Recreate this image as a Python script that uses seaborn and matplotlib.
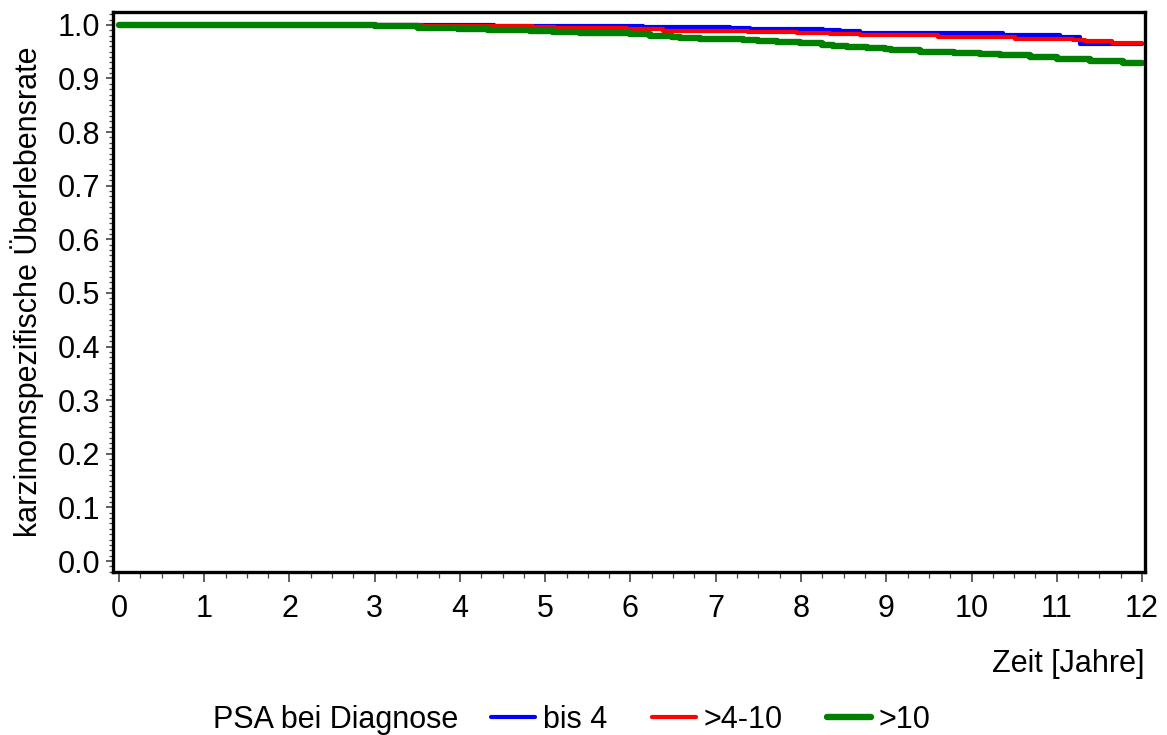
import numpy as np
import pandas as pd
import matplotlib
matplotlib.use("Agg")
import matplotlib.pyplot as plt
import seaborn as sns
from matplotlib.ticker import MultipleLocator, FormatStrFormatter

# ---- data ----
groups = ["bis 4", ">4-10", ">10"]
colors = ["#0000FF", "#FF0000", "#008000"]

t_bis4 = [0, 2.5, 4.4, 6.03, 6.15, 7.17, 7.40, 8.26, 8.46, 8.69, 10.37, 11.04, 11.27, 12.0]
s_bis4 = [1.0, 0.999, 0.998, 0.997, 0.9955, 0.994, 0.9925, 0.9905, 0.989, 0.985, 0.981, 0.977, 0.965, 0.965]

t_4_10 = [0, 2.6, 3.55, 4.0, 4.86, 5.11, 5.96, 6.38, 7.38, 7.95, 8.34, 8.69, 9.61, 10.51,
          10.66, 11.19, 11.33, 11.65, 12.0]
s_4_10 = [1.0, 0.999, 0.998, 0.997, 0.996, 0.994, 0.992, 0.989, 0.987, 0.9845, 0.9826, 0.9815,
          0.978, 0.9745, 0.973, 0.972, 0.970, 0.967, 0.967]

t_gt10 = [0, 2.38, 3.0, 3.51, 3.98, 4.33, 4.82, 5.09, 5.41, 5.99, 6.23, 6.49, 6.58, 6.82, 7.32,
          7.5, 7.72, 7.99, 8.25, 8.38, 8.54, 8.77, 8.99, 9.05, 9.4, 9.79, 10.1, 10.33, 10.69, 11.0,
          11.39, 11.59, 11.78, 12.0]
s_gt10 = [1.0, 0.9994, 0.997, 0.995, 0.9925, 0.9907, 0.989, 0.987, 0.985, 0.9826, 0.980, 0.9776,
          0.976, 0.974, 0.9714, 0.969, 0.9677, 0.966, 0.9633, 0.9614, 0.9596, 0.9577, 0.9547, 0.953,
          0.950, 0.948, 0.946, 0.944, 0.940, 0.936, 0.933, 0.932, 0.929, 0.929]

x_ticks = list(range(0, 13))
y_ticks = [round(0.1 * i, 1) for i in range(11)]

# ---- figure ----
sns.set_style("white")
plt.rcParams["font.family"] = ["Liberation Sans", "DejaVu Sans"]
plt.rcParams["text.color"] = "black"
plt.rcParams["axes.labelcolor"] = "black"
plt.rcParams["xtick.color"] = "black"
plt.rcParams["ytick.color"] = "black"
FS = 22

fig = plt.figure(figsize=(11.67, 7.35), dpi=100)
ax = fig.add_axes([113 / 1167, 1 - 572 / 735, (1145 - 113) / 1167, (572 - 12) / 735])

series = [(t_bis4, s_bis4), (t_4_10, s_4_10), (t_gt10, s_gt10)]
widths = [3.0, 3.0, 4.6]
for (t, s), g, c, lw in zip(series, groups, colors, widths):
    df = pd.DataFrame({"Zeit": t, "Rate": s})
    sns.lineplot(data=df, x="Zeit", y="Rate", ax=ax, color=c, linewidth=lw,
                 drawstyle="steps-post", label=g, sort=False, legend=False,
                 solid_capstyle="round")

ax.set_xlim(-0.07, 12.035)
ax.set_ylim(-0.0205, 1.024)
ax.set_xticks(x_ticks)
ax.set_yticks(y_ticks)
ax.xaxis.set_minor_locator(MultipleLocator(0.25))
ax.yaxis.set_minor_locator(MultipleLocator(0.01))
ax.yaxis.set_major_formatter(FormatStrFormatter("%.1f"))

for sp in ax.spines.values():
    sp.set_linewidth(2.4)
    sp.set_color("black")

ax.tick_params(axis="both", which="both", bottom=True, left=True, top=False, right=False)
ax.tick_params(axis="both", which="major", direction="out", length=5, width=1.2,
               color="#444444", labelcolor="black", labelsize=FS, pad=4)
ax.tick_params(axis="both", which="minor", direction="out", length=3, width=0.9,
               color="#444444")
ax.tick_params(axis="x", which="major", length=7, pad=9)
ax.tick_params(axis="x", which="minor", length=4.5)

ax.set_xlabel("Zeit [Jahre]", fontsize=FS, loc="right", labelpad=18, color="black")
ax.set_ylabel("karzinomspezifische Überlebensrate", fontsize=FS, labelpad=10, color="black")

# legend
handles, labels = ax.get_legend_handles_labels()
fig.text(213 / 1167, 1 - 720 / 735, "PSA bei Diagnose", fontsize=FS, va="center", ha="left",
         color="black")
fig.legend(handles, labels, loc="center left", bbox_to_anchor=(491 / 1167, 1 - 720 / 735),
           ncol=3, frameon=False, fontsize=FS, handlelength=1.45, handletextpad=0.25,
           columnspacing=1.45, borderpad=0, borderaxespad=0, labelcolor="black")

fig.savefig("out.png", dpi=100)
